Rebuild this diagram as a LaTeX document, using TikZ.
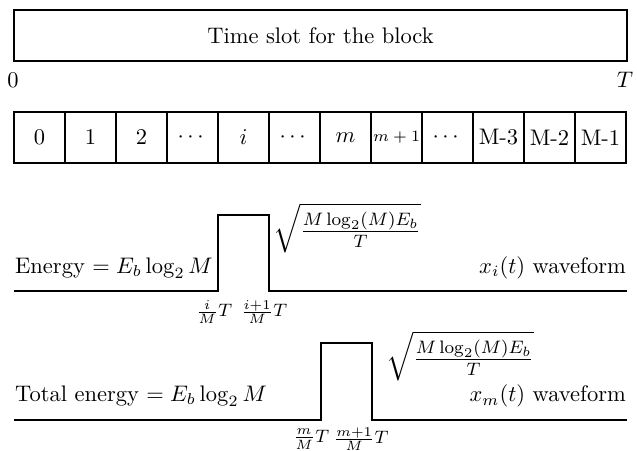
\documentclass[tikz,border=0pt]{standalone}
\usepackage{amsmath}
\begin{document}
\begin{tikzpicture}[x=0.4444pt,y=-0.4444pt, line width=1pt,
  cellbox/.style={draw, inner sep=0, minimum width=22.67pt, minimum height=22.67pt},
  lbl/.style={inner sep=0},
  tick/.style={inner sep=0, font=\footnotesize},
  amp/.style={inner sep=0, anchor=west, font=\large},
  wave/.style={line width=1pt}]
\useasboundingbox (0,0) rectangle (637,451);
\node[draw, inner sep=0, minimum width=272.4pt, minimum height=22.67pt] (slot) at (320.5,35.5) {Time slot for the block};
\node[lbl] (zero) at (13,80) {$0$};
\node[lbl] (tend) at (625,80) {$T$};
\foreach \t [count=\k from 0] in {$0$,$1$,$2$,$\cdots$,$i$,$\cdots$,$m$,{\scriptsize $m+1$},$\cdots$,M-3,M-2,M-1}
  \node[cellbox] (c\k) at (39.5+51*\k,137.5) {\t};
% waveform for x_i
\draw[wave] (14,291) -- (218,291) -- (218,215) -- (269,215) -- (269,291) -- (627,291);
\node[lbl, anchor=west] (en1) at (14,268) {Energy $= E_b\log_2 M$};
\node[lbl, anchor=east] (w1) at (627,268) {$x_i(t)$ waveform};
\node[amp] (s1) at (272,228) {$\sqrt{\frac{M\log_2(M)E_b}{T}}$};
\node[tick] (t1a) at (214,312) {$\frac{i}{M}T$};
\node[tick] (t1b) at (264,312) {$\frac{i+1}{M}T$};
% waveform for x_m
\draw[wave] (14,420) -- (321,420) -- (321,343) -- (372,343) -- (372,420) -- (627,420);
\node[lbl, anchor=west] (en2) at (14,396) {Total energy $= E_b\log_2 M$};
\node[lbl, anchor=east] (w2) at (627,396) {$x_m(t)$ waveform};
\node[amp] (s2) at (385,356) {$\sqrt{\frac{M\log_2(M)E_b}{T}}$};
\node[tick] (t2a) at (311,439) {$\frac{m}{M}T$};
\node[tick] (t2b) at (361,439) {$\frac{m+1}{M}T$};
\end{tikzpicture}
\end{document}
